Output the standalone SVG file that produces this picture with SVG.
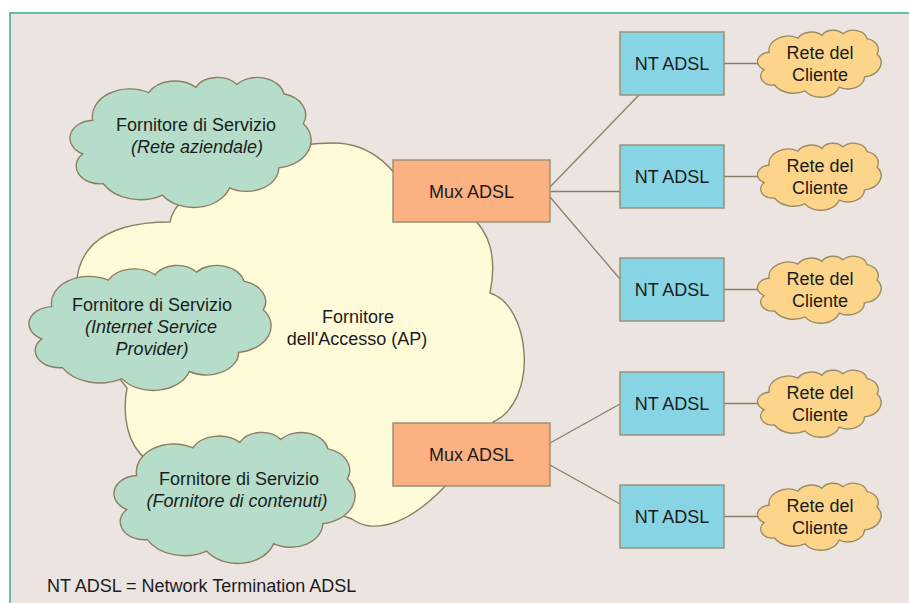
<svg xmlns="http://www.w3.org/2000/svg" xmlns:xlink="http://www.w3.org/1999/xlink" width="909" height="603" viewBox="0 0 909 603">
  <style>
    .t { font-family: "Liberation Sans", Arial, sans-serif; font-size: 18px; fill: #1c1c1c; text-anchor: middle; }
    .it { font-style: italic; }
    .edge { stroke: #8a7f66; stroke-width: 1.3; fill: none; }
    .svc { fill: #b5ddca; stroke: #8b7f63; stroke-width: 1.4; }
    .cust { fill: #fdd58a; stroke: #9a8b63; stroke-width: 1.4; }
    .mux { fill: #fbb181; stroke: #9a9278; stroke-width: 1.5; }
    .nt { fill: #87d4e4; stroke: #9a9278; stroke-width: 1.5; }
  </style>
  <defs>
    <!-- generic cloud outline in a 100 x 100 box -->
    <path id="cloud" vector-effect="non-scaling-stroke" d="M9.03,33.26 A15.63,21.27 0 0 1 32.42,12.04 A12.35,16.82 0 0 1 51.98,7.95 A10.10,13.76 0 0 1 69.06,5.74 A11.24,15.27 0 0 1 88.70,12.91 A12.35,16.84 0 0 1 96.80,35.78 A15.68,21.34 0 0 1 86.58,69.91 A13.39,18.21 0 0 1 66.10,85.21 A15.63,21.33 0 0 1 38.15,90.89 A17.87,24.41 0 0 1 13.44,82.11 A10.09,13.70 0 0 1 4.89,59.14 A10.06,13.76 0 0 1 9.03,33.26 Z"/>
  </defs>

  <!-- page and frame -->
  <rect x="0" y="0" width="909" height="603" fill="#ffffff"/>
  <rect x="10" y="13" width="910" height="600" fill="#ece4e0" stroke="#2bb38a" stroke-width="1.5"/>

  <!-- access provider cloud -->
  <g id="access-provider">
    <path fill="#fffad8" stroke="#8b7f63" stroke-width="1.4" d="M77,300 C72,255 95,222 170,222 C175,190 250,143 333,143 A77,77 0 0 1 409,207 C455,195 505,220 490,293 C530,305 540,400 493,422 C470,460 420,530 370,526 C362,525 356,522 352,519 C300,500 180,470 147,460 C127,445 122,415 127,388 C105,360 80,335 77,300 Z"/>
    <text class="t" x="358" y="323">Fornitore</text>
    <text class="t" x="357" y="345">dell'Accesso (AP)</text>
  </g>

  <!-- service providers -->
  <g id="sp-corporate">
    <use xlink:href="#cloud" class="svc" transform="translate(71 77) scale(2.4 1.3)"/>
    <text class="t" x="196" y="131">Fornitore di Servizio</text>
    <text class="t it" x="197" y="153">(Rete aziendale)</text>
  </g>
  <g id="sp-isp">
    <use xlink:href="#cloud" class="svc" transform="translate(30 265) scale(2.41 1.25)"/>
    <text class="t" x="152" y="311">Fornitore di Servizio</text>
    <text class="t it" x="151" y="333">(Internet Service</text>
    <text class="t it" x="152" y="355">Provider)</text>
  </g>
  <g id="sp-content">
    <use xlink:href="#cloud" class="svc" transform="translate(115 432) scale(2.4 1.31)"/>
    <text class="t" x="239" y="485">Fornitore di Servizio</text>
    <text class="t it" x="237" y="507">(Fornitore di contenuti)</text>
  </g>

  <!-- connectors -->
  <g id="connectors" class="edge">
    <line x1="550" y1="187" x2="639" y2="95"/>
    <line x1="550" y1="191.5" x2="620" y2="191.5"/>
    <line x1="550" y1="197" x2="620" y2="279"/>
    <line x1="550" y1="443" x2="620" y2="404"/>
    <line x1="550" y1="465" x2="620" y2="504"/>
    <line x1="724" y1="63.5" x2="759" y2="63.5"/>
    <line x1="724" y1="176.5" x2="759" y2="176.5"/>
    <line x1="724" y1="289.5" x2="759" y2="289.5"/>
    <line x1="724" y1="403.5" x2="759" y2="403.5"/>
    <line x1="724" y1="516.5" x2="759" y2="516.5"/>
  </g>

  <!-- multiplexers -->
  <g id="mux-1">
    <rect class="mux" x="393" y="160" width="157" height="62"/>
    <text class="t" x="471.5" y="197.5">Mux ADSL</text>
  </g>
  <g id="mux-2">
    <rect class="mux" x="393" y="423" width="157" height="63"/>
    <text class="t" x="471.5" y="461">Mux ADSL</text>
  </g>

  <!-- network terminations -->
  <g id="nt-1">
    <rect class="nt" x="620" y="32" width="104" height="63"/>
    <text class="t" x="672" y="70">NT ADSL</text>
  </g>
  <g id="nt-2">
    <rect class="nt" x="620" y="145" width="104" height="63"/>
    <text class="t" x="672" y="183">NT ADSL</text>
  </g>
  <g id="nt-3">
    <rect class="nt" x="620" y="258" width="104" height="63"/>
    <text class="t" x="672" y="296">NT ADSL</text>
  </g>
  <g id="nt-4">
    <rect class="nt" x="620" y="372" width="104" height="63"/>
    <text class="t" x="672" y="410">NT ADSL</text>
  </g>
  <g id="nt-5">
    <rect class="nt" x="620" y="485" width="104" height="63"/>
    <text class="t" x="672" y="523">NT ADSL</text>
  </g>

  <!-- customer networks -->
  <g id="customer-1">
    <use xlink:href="#cloud" class="cust" transform="translate(758 30) scale(1.23 0.67)"/>
    <text class="t" x="820" y="58.5">Rete del</text>
    <text class="t" x="820" y="81">Cliente</text>
  </g>
  <g id="customer-2">
    <use xlink:href="#cloud" class="cust" transform="translate(758 143) scale(1.23 0.67)"/>
    <text class="t" x="820" y="171.5">Rete del</text>
    <text class="t" x="820" y="194">Cliente</text>
  </g>
  <g id="customer-3">
    <use xlink:href="#cloud" class="cust" transform="translate(758 256) scale(1.23 0.67)"/>
    <text class="t" x="820" y="284.5">Rete del</text>
    <text class="t" x="820" y="307">Cliente</text>
  </g>
  <g id="customer-4">
    <use xlink:href="#cloud" class="cust" transform="translate(758 370) scale(1.23 0.67)"/>
    <text class="t" x="820" y="398.5">Rete del</text>
    <text class="t" x="820" y="421">Cliente</text>
  </g>
  <g id="customer-5">
    <use xlink:href="#cloud" class="cust" transform="translate(758 483) scale(1.23 0.67)"/>
    <text class="t" x="820" y="511.5">Rete del</text>
    <text class="t" x="820" y="534">Cliente</text>
  </g>

  <!-- legend -->
  <text class="t" x="47" y="592" style="text-anchor:start">NT ADSL = Network Termination ADSL</text>
</svg>
